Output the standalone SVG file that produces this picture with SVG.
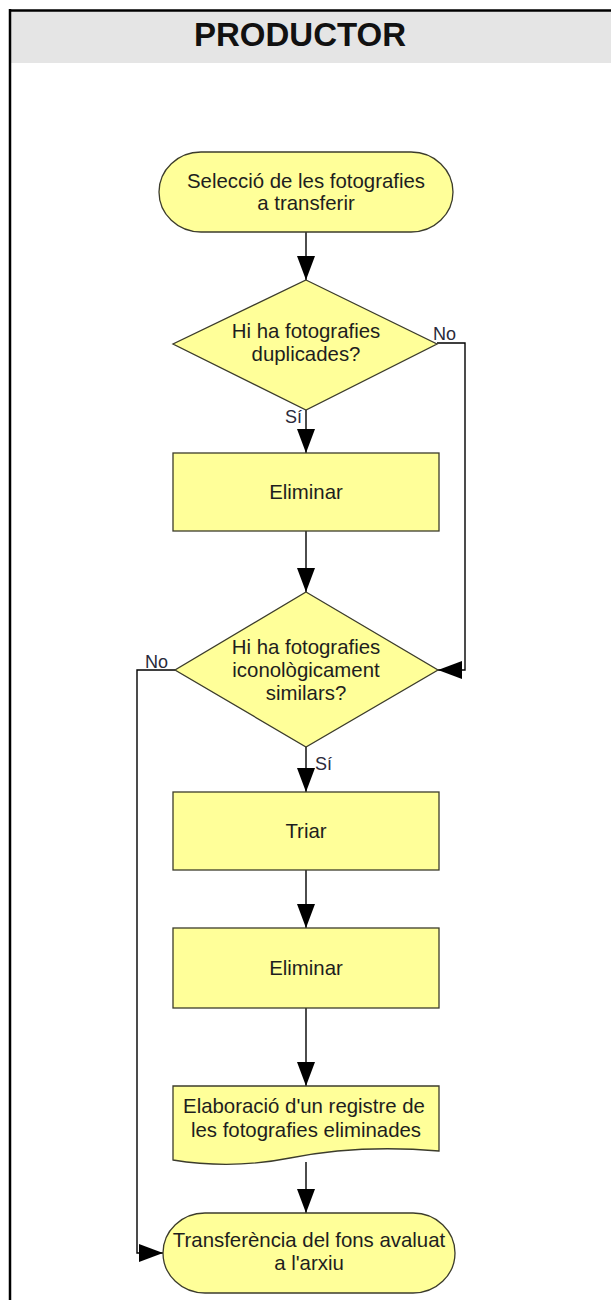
<svg xmlns="http://www.w3.org/2000/svg" width="611" height="1300" viewBox="0 0 611 1300">
<style>
.shape{fill:#ffff99;stroke:#3c3c2c;stroke-width:1.3}
.t{font-family:"Liberation Sans",Arial,sans-serif;font-size:20.4px;fill:#1e1e1e;text-anchor:middle}
.lbl{font-family:"Liberation Sans",Arial,sans-serif;font-size:18px;fill:#2a2a3a}
.c{fill:none;stroke:#000;stroke-width:1.4}
</style>
<defs>
<marker id="ah" viewBox="0 0 24 18" refX="24" refY="9" markerWidth="24" markerHeight="18" markerUnits="userSpaceOnUse" orient="auto">
<path d="M0,0 L24,9 L0,18 Z" fill="#000"/>
</marker>
</defs>
<rect x="0" y="0" width="611" height="1300" fill="#fff"/>
<g id="header">
<rect x="10" y="10" width="601" height="53" fill="#e5e5e5"/>
<line x1="9" y1="10.5" x2="611" y2="10.5" stroke="#000" stroke-width="2.5"/>
<line x1="10" y1="9" x2="10" y2="1300" stroke="#000" stroke-width="2.5"/>
<text x="300" y="46" font-family="Liberation Sans,Arial,sans-serif" font-size="33" font-weight="bold" text-anchor="middle" fill="#111">PRODUCTOR</text>
</g>
<g id="connectors">
<line class="c" x1="306" y1="232" x2="306" y2="280" marker-end="url(#ah)"/>
<line class="c" x1="306" y1="410" x2="306" y2="453" marker-end="url(#ah)"/>
<polyline class="c" points="437,343 465,343 465,670 438,670" marker-end="url(#ah)"/>
<line class="c" x1="306" y1="531" x2="306" y2="592" marker-end="url(#ah)"/>
<polyline class="c" points="175,670 137,670 137,1253 163,1253" marker-end="url(#ah)"/>
<line class="c" x1="306" y1="747" x2="306" y2="792" marker-end="url(#ah)"/>
<line class="c" x1="306" y1="870" x2="306" y2="928" marker-end="url(#ah)"/>
<line class="c" x1="306" y1="1008" x2="306" y2="1086" marker-end="url(#ah)"/>
<line class="c" x1="306" y1="1162" x2="306" y2="1213" marker-end="url(#ah)"/>
<text class="lbl" x="433" y="340">No</text>
<text class="lbl" x="285" y="423">Sí</text>
<text class="lbl" x="145" y="668">No</text>
<text class="lbl" x="315" y="770">Sí</text>
</g>
<g id="start">
<rect class="shape" x="159" y="152" width="294" height="80" rx="42" ry="40"/>
<text class="t" x="306" y="188">Selecció de les fotografies</text>
<text class="t" x="306" y="210">a transferir</text>
</g>
<g id="decision1">
<polygon class="shape" points="306,280 437,344 306,410 173,344"/>
<text class="t" x="306" y="338">Hi ha fotografies</text>
<text class="t" x="306" y="361">duplicades?</text>
</g>
<g id="eliminar1">
<rect class="shape" x="173" y="453" width="266" height="78"/>
<text class="t" x="306" y="499">Eliminar</text>
</g>
<g id="decision2">
<polygon class="shape" points="306,592 438,670 306,747 175,670"/>
<text class="t" x="306" y="654">Hi ha fotografies</text>
<text class="t" x="306" y="677">iconològicament</text>
<text class="t" x="306" y="700">similars?</text>
</g>
<g id="triar">
<rect class="shape" x="173" y="792" width="266" height="78"/>
<text class="t" x="306" y="838">Triar</text>
</g>
<g id="eliminar2">
<rect class="shape" x="173" y="928" width="266" height="80"/>
<text class="t" x="306" y="975">Eliminar</text>
</g>
<g id="registre">
<path class="shape" d="M173,1086 H439 V1151 C380,1146 330,1150 290,1158 C250,1166 210,1166 173,1160 Z"/>
<text class="t" x="304" y="1113">Elaboració d'un registre de</text>
<text class="t" x="306" y="1137">les fotografies eliminades</text>
</g>
<g id="end">
<rect class="shape" x="163" y="1213" width="292" height="80" rx="42" ry="40"/>
<text class="t" x="309" y="1247">Transferència del fons avaluat</text>
<text class="t" x="309" y="1270">a l'arxiu</text>
</g>
</svg>
